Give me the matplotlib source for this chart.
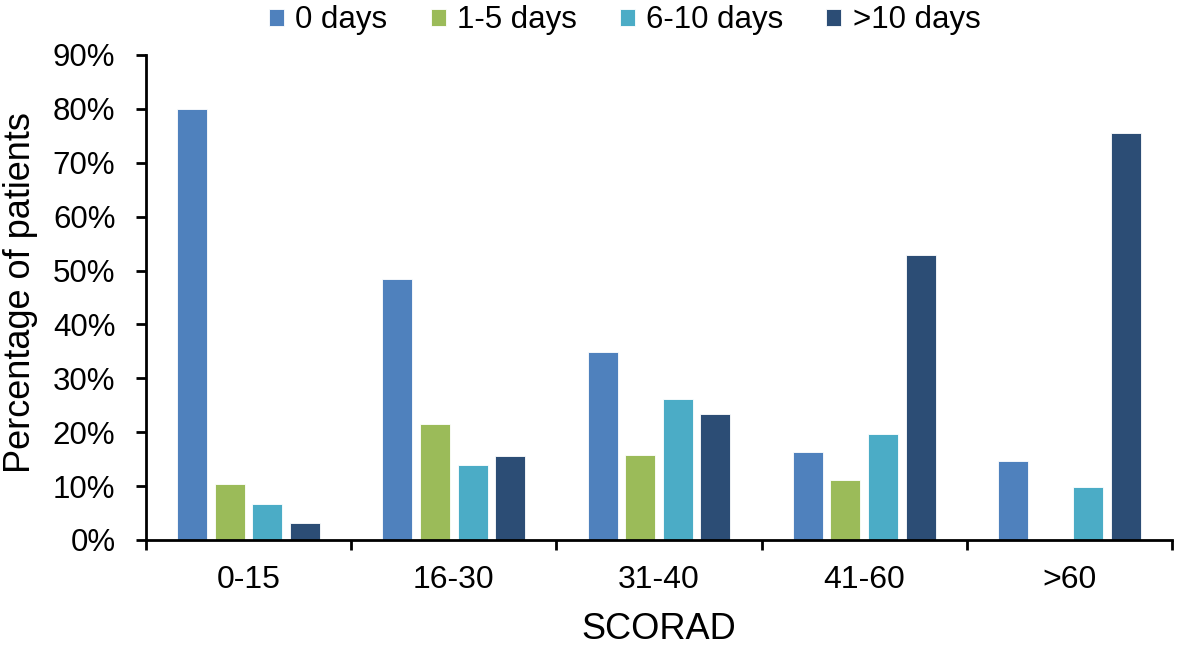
import numpy as np
import matplotlib as mpl
mpl.use('Agg')
import matplotlib.pyplot as plt

plt.rcParams['font.family'] = ['Liberation Sans', 'DejaVu Sans']

# Data (percent of patients)
categories = ['0-15', '16-30', '31-40', '41-60', '>60']
series_names = ['0 days', '1-5 days', '6-10 days', '>10 days']
days_0 = [80.0, 48.5, 34.9, 16.4, 14.7]
days_1_5 = [10.4, 21.6, 15.7, 11.1, 0.0]
days_6_10 = [6.7, 14.0, 26.2, 19.6, 9.8]
days_gt10 = [3.1, 15.6, 23.3, 52.8, 75.6]
colors = ['#4F81BD', '#9BBB59', '#4BACC6', '#2C4D75']

fig = plt.figure(figsize=(11.81, 6.47), dpi=100)
ax = fig.add_axes([0.1236, 0.1654, 0.8688, 0.7496])

x = np.arange(len(categories))
step = 0.183
width = 0.146
all_series = [days_0, days_1_5, days_6_10, days_gt10]
for i, (vals, name, c) in enumerate(zip(all_series, series_names, colors)):
    ax.bar(x + (i - 1.5) * step, vals, width, color=c, label=name,
           edgecolor='white', linewidth=0.6)

ax.set_xlim(-0.5, len(categories) - 0.5)
ax.set_ylim(0, 90)
ax.set_yticks(np.arange(0, 91, 10))
ax.set_yticklabels(['%d%%' % v for v in range(0, 91, 10)])

ax.set_xticks(x)
ax.set_xticklabels(categories)
ax.set_xticks(np.arange(-0.5, len(categories)), minor=True)
ax.tick_params(axis='x', which='major', length=0, pad=18, labelsize=23)
ax.tick_params(axis='x', which='minor', length=7, width=2, direction='out')
ax.tick_params(axis='y', length=7, width=2, direction='out', labelsize=22.5, pad=15)

for s in ['top', 'right']:
    ax.spines[s].set_visible(False)
for s in ['left', 'bottom']:
    ax.spines[s].set_linewidth(2)

ax.set_xlabel('SCORAD', fontsize=26, labelpad=12)
ax.set_ylabel('Percentage of patients', fontsize=26, labelpad=2)
ax.yaxis.set_label_coords(-0.105, 0.51)

fig.legend(loc='upper center', bbox_to_anchor=(0.529, 1.035), ncol=4,
           frameon=False, fontsize=22.5, handlelength=0.48, handleheight=0.48,
           handletextpad=0.36, columnspacing=1.38)

fig.savefig('out.png', dpi=100)
